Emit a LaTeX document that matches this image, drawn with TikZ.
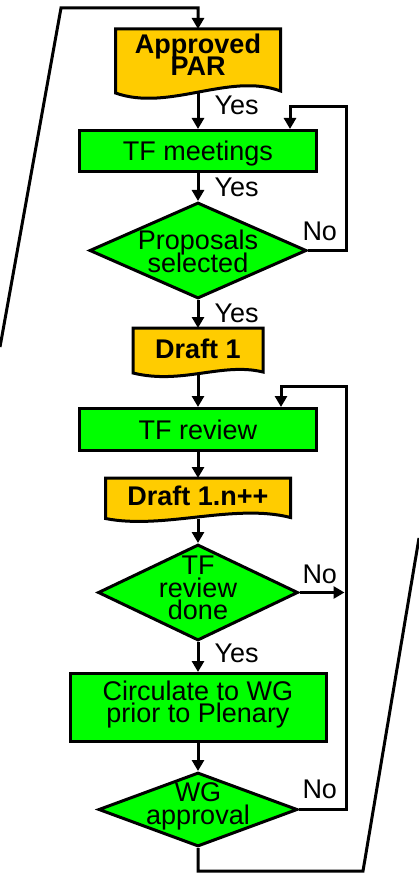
\documentclass[tikz,border=0pt]{standalone}
\usepackage{fontspec}
\setmainfont{Liberation Sans}
\usetikzlibrary{shapes.geometric,arrows.meta}
\definecolor{docorange}{HTML}{FFCC00}
\definecolor{boxgreen}{HTML}{00FF00}
\newcommand{\diagfont}{\fontsize{27}{22.8}\selectfont\lineskiplimit=-100pt}
\begin{document}
\begin{tikzpicture}[x=1pt,y=-1pt,line width=3pt,
  arr/.style={-{Triangle[length=11pt,width=12pt]}},
  proc/.style={rectangle,draw,fill=boxgreen,inner sep=0pt,font=\diagfont,text height=19pt,text depth=0pt},
  dec/.style={diamond,draw,fill=boxgreen,inner sep=0pt},
  docbox/.style={rectangle,inner sep=0pt},
  docfill/.style={draw,fill=docorange},
  txt/.style={inner sep=0pt,align=center,font=\diagfont},
  btxt/.style={inner sep=0pt,align=center,font=\diagfont\bfseries},
  lbl/.style={inner sep=0pt,anchor=base west,font=\diagfont}]
\useasboundingbox (0,0) rectangle (419,874);

% Approved PAR (document)
\node[docbox,minimum width=162,minimum height=61] (par) at (198,61) {};
\filldraw[docfill] (par.north west) -- (par.north east) -- ([yshift=2pt]par.south east)
  .. controls (229,72) and (169,112) .. (par.south west) -- cycle;
\node[btxt] (part) at (198,54.8) {Approved\\PAR};

% TF meetings
\node[proc,minimum width=237,minimum height=41] (tfm) at (198,151) {TF meetings};

% Proposals selected
\node[dec,minimum width=217,minimum height=96] (d1) at (198,250.5) {};
\node[txt] (d1t) at (198,251.7) {Proposals\\selected};

% Draft 1
\node[docbox,minimum width=127,minimum height=42] (dr1) at (198,350.5) {};
\filldraw[docfill] (dr1.north west) -- (dr1.north east) -- ([yshift=1pt]dr1.south east)
  .. controls (222,362) and (182,385) .. (dr1.south west) -- cycle;
\node[btxt,anchor=base] (dr1t) at (198,358) {Draft 1};

% TF review
\node[proc,minimum width=237,minimum height=42] (tfr) at (198,429.5) {TF review};

% Draft 1.n++
\node[docbox,minimum width=182,minimum height=37.5] (drn) at (198,498.25) {};
\filldraw[docfill] (drn.north west) -- (drn.north east) -- ([yshift=1pt]drn.south east)
  .. controls (234,503) and (163,530) .. (drn.south west) -- cycle;
\node[btxt,anchor=base] (drnt) at (198,505) {Draft 1.n++};

% TF review done
\node[dec,minimum width=200,minimum height=96] (d2) at (198,592.5) {};
\node[txt] (d2t) at (198,588) {TF\\review\\done};

% Circulate
\node[rectangle,draw,fill=boxgreen,inner sep=0pt,minimum width=256,minimum height=68] (circ) at (198,707.5) {};
\node[txt] (circt) at (198,704.5) {Circulate to WG\\prior to Plenary};

% WG approval
\node[dec,minimum width=199,minimum height=74] (d3) at (198,809.5) {};
\node[txt] (d3t) at (198,806.5) {WG\\approval};

% main flow
\draw[arr] (par.south) -- (tfm.north);
\draw[arr] (tfm.south) -- (d1.north);
\draw[arr] (d1.south) -- (dr1.north);
\draw[arr] (dr1.south) -- (tfr.north);
\draw[arr] (tfr.south) -- (drn.north);
\draw[arr] (drn.south) -- (d2.north);
\draw[arr] (d2.south) -- (circ.north);
\draw[arr] (circ.south) -- (d3.north);

% loop 1
\coordinate (lp1) at (346,107);
\coordinate (in1) at (290,107);
\draw[arr] (d1.east) -| (lp1) -- (in1) -- (in1 |- tfm.north);

% loop 2
\coordinate (lp2) at (346,386);
\coordinate (in2) at (281,386);
\draw[arr] (d3.east) -| (lp2) -- (in2) -- (in2 |- tfr.north);
\draw[arr,shorten >=1.5pt] (d2.east) -- (d2.east -| lp2);

% outer return line
\coordinate (bc) at (363,871);
\coordinate (exitR) at (419,538);
\draw (d3.south) |- (bc) -- (exitR);
\coordinate (entL) at (0,347);
\coordinate (tl) at (61,8);
\draw[arr] (entL) -- (tl) -| (par.north);

% labels
\node[lbl] (yes1) at (213,115) {Yes};
\node[lbl] (yes2) at (213,197) {Yes};
\node[lbl] (yes3) at (213,322) {Yes};
\node[lbl] (yes4) at (213,662) {Yes};
\node[lbl] (no1) at (301,241) {No};
\node[lbl] (no2) at (301,583) {No};
\node[lbl] (no3) at (301,798) {No};
\end{tikzpicture}
\end{document}
